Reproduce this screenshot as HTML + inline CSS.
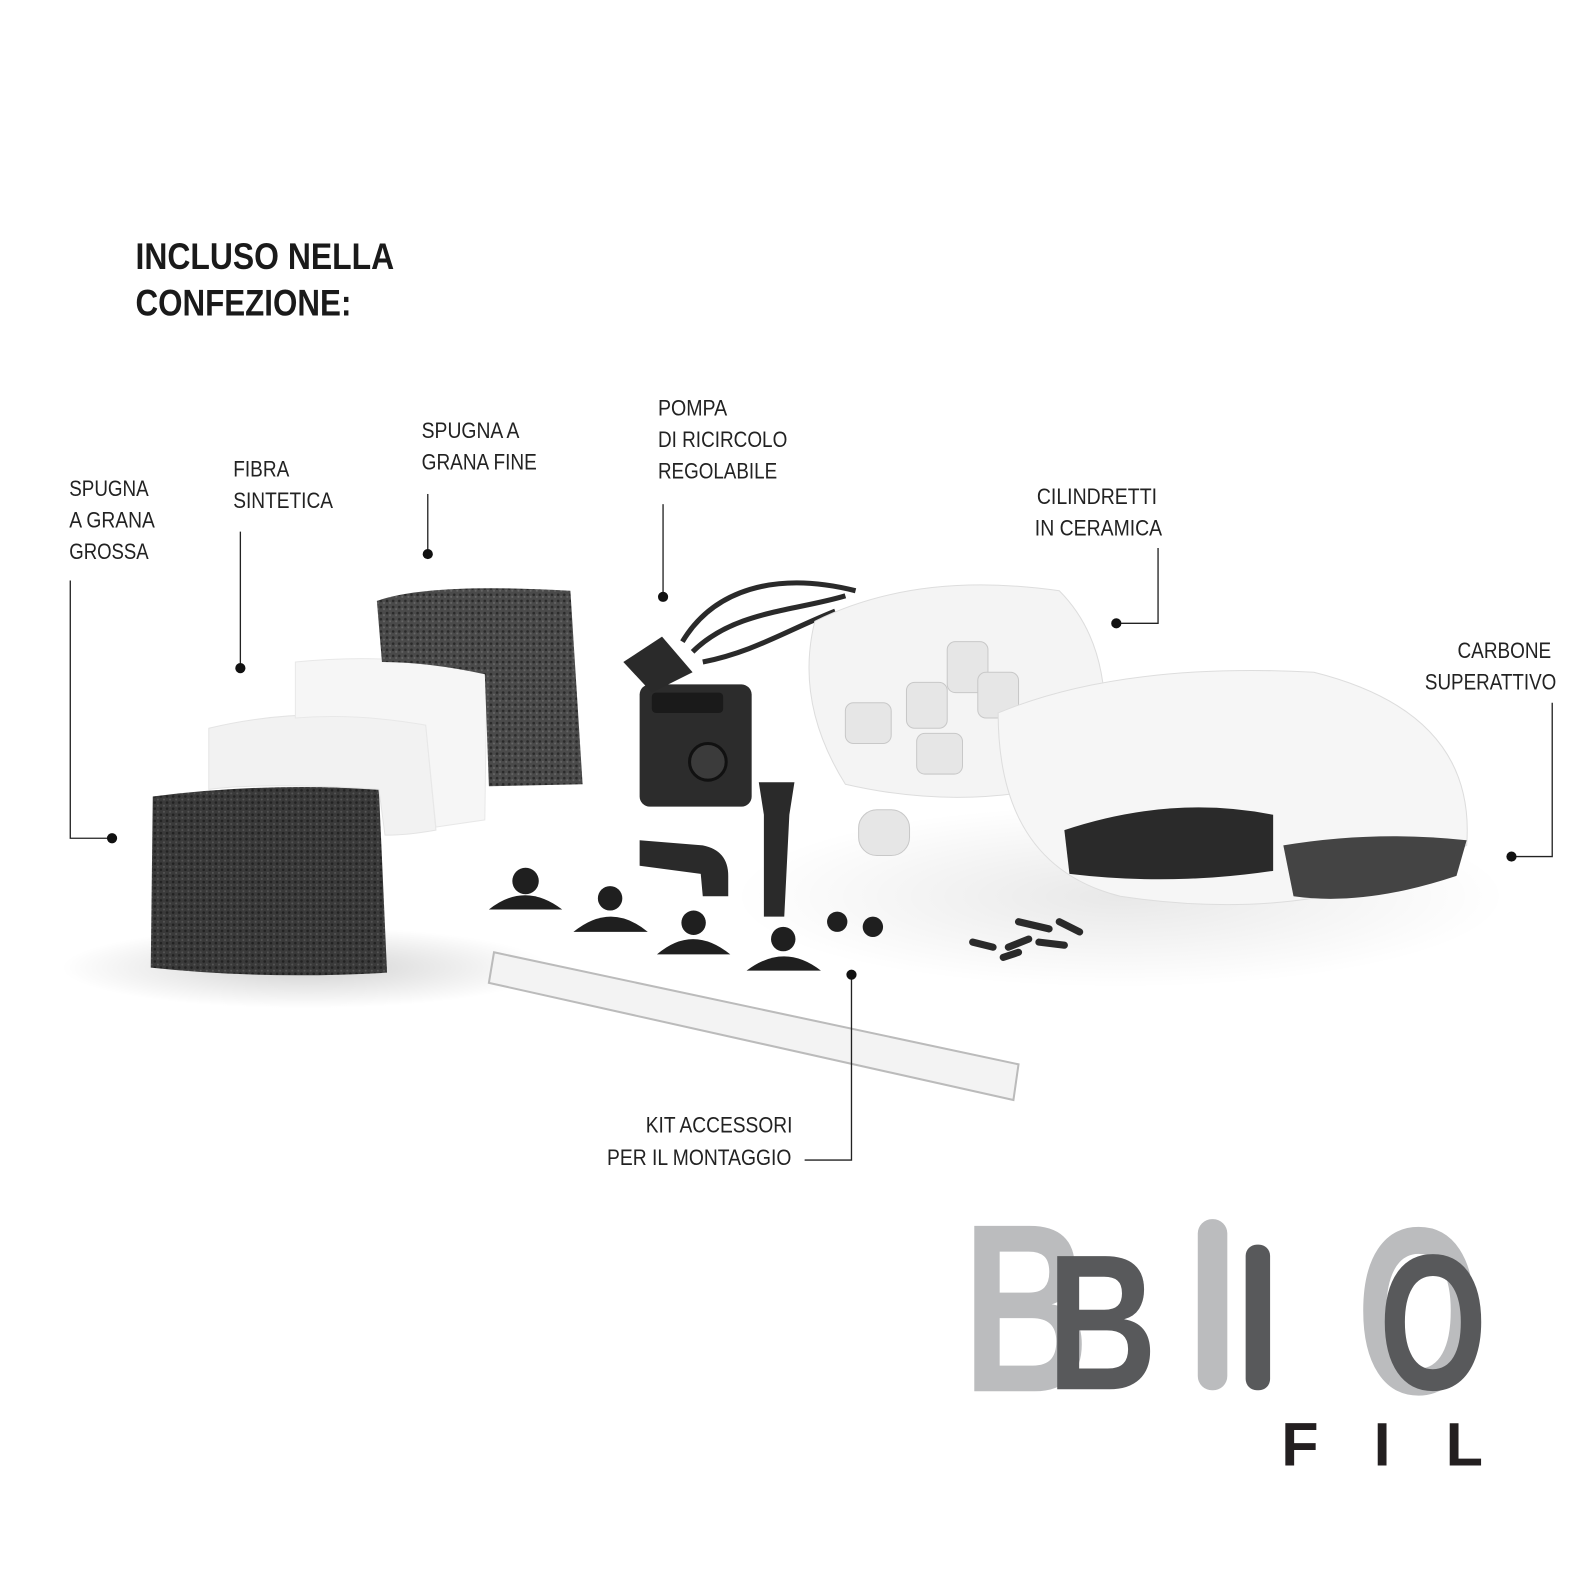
<!DOCTYPE html>
<html><head><meta charset="utf-8">
<style>
html,body{margin:0;padding:0;background:#fff}
#c{position:relative;width:1595px;height:1596px;overflow:hidden;background:#fff}
svg{position:absolute;left:0;top:0}
</style></head><body><div id="c">
<svg width="1595" height="1596" viewBox="0 0 1566 1567" preserveAspectRatio="none" xmlns="http://www.w3.org/2000/svg">
<defs>
<radialGradient id="sh" cx="50%" cy="50%" r="50%"><stop offset="0" stop-color="#000" stop-opacity="0.18"/><stop offset="1" stop-color="#000" stop-opacity="0"/></radialGradient>
<pattern id="foam" width="6" height="6" patternUnits="userSpaceOnUse"><rect width="6" height="6" fill="#3a3a3a"/><circle cx="2" cy="2" r="1.3" fill="#222"/><circle cx="5" cy="5" r="1" fill="#555"/></pattern>
<pattern id="foam2" width="6" height="6" patternUnits="userSpaceOnUse"><rect width="6" height="6" fill="#4a4a4a"/><circle cx="2" cy="2" r="1.3" fill="#2a2a2a"/><circle cx="5" cy="4" r="1" fill="#666"/></pattern>
</defs>
<ellipse cx="300" cy="950" rx="240" ry="40" fill="url(#sh)"/>
<ellipse cx="1100" cy="880" rx="380" ry="90" fill="url(#sh)" opacity="0.5"/>
<path d="M150 782 Q260 768 372 775 L380 955 Q260 962 148 950 Z" fill="url(#foam)"/>
<path d="M205 715 Q310 690 418 712 L428 815 Q400 820 378 820 L372 775 Q260 768 205 775 Z" fill="#f2f2f2" stroke="#e4e4e4"/>
<path d="M290 650 Q390 640 478 660 L476 805 L428 812 L418 712 Q350 700 290 705 Z" fill="#f6f6f6" stroke="#e8e8e8"/>
<path d="M370 590 Q420 572 560 580 L572 770 L480 772 L476 662 Q420 650 375 650 Z" fill="url(#foam2)"/>
<rect x="628" y="672" width="110" height="120" rx="10" fill="#2c2c2c"/>
<rect x="640" y="680" width="70" height="20" rx="4" fill="#1a1a1a"/>
<circle cx="695" cy="748" r="18" fill="#3b3b3b" stroke="#111" stroke-width="3"/>
<path d="M612 650 L650 625 L680 660 L640 680 Z" fill="#2a2a2a"/>
<path d="M670 630 C700 580 760 560 840 580 M680 640 C720 600 780 600 830 585 M690 650 C740 640 770 620 820 600" fill="none" stroke="#2a2a2a" stroke-width="5"/>
<path d="M628 825 L690 830 Q715 835 715 860 L715 880 L690 880 L688 858 L628 850 Z" fill="#2a2a2a"/>
<path d="M745 768 L780 768 L775 800 L770 900 L750 900 L750 800 Z" fill="#2a2a2a"/>
<g fill="#1f1f1f">
<path d="M480 893 Q515 865 552 893 Z"/><circle cx="516" cy="865" r="13"/>
<path d="M563 915 Q600 885 636 915 Z"/><circle cx="599" cy="882" r="12"/>
<path d="M645 937 Q680 907 717 937 Z"/><circle cx="681" cy="906" r="12"/>
<path d="M733 953 Q770 925 806 953 Z"/><circle cx="769" cy="922" r="12"/>
<circle cx="822" cy="905" r="10"/><circle cx="857" cy="910" r="10"/>
</g>
<path d="M485 935 L1000 1045 L995 1080 L480 965 Z" fill="#f3f3f3" stroke="#bbb" stroke-width="2"/>
<path d="M800 610 Q900 560 1040 580 Q1100 640 1080 760 Q960 800 830 770 Q780 690 800 610 Z" fill="#f4f4f4" stroke="#ddd"/>
<g fill="#e6e6e6" stroke="#c8c8c8"><rect x="930" y="630" width="40" height="50" rx="8"/><rect x="890" y="670" width="40" height="45" rx="8"/><rect x="830" y="690" width="45" height="40" rx="8"/><rect x="960" y="660" width="40" height="45" rx="8"/><rect x="900" y="720" width="45" height="40" rx="8"/><rect x="843" y="795" width="50" height="45" rx="18"/></g>
<path d="M980 700 Q1100 650 1290 660 Q1450 700 1440 830 Q1300 910 1100 880 Q980 850 980 700 Z" fill="#f6f6f6" stroke="#ddd"/>
<path d="M1045 815 Q1150 780 1250 800 L1250 855 Q1150 870 1050 858 Z" fill="#2a2a2a"/>
<path d="M1260 830 Q1350 815 1440 825 L1430 860 Q1340 890 1270 880 Z" fill="#444"/>
<g stroke="#2a2a2a" stroke-width="7" stroke-linecap="round"><path d="M955 925 L975 930 M990 930 L1010 922 M1000 905 L1030 912 M1020 925 L1045 928 M1040 905 L1060 915 M985 940 L1000 935"/></g>
<g stroke="#222" stroke-width="1.3" fill="none">
<path d="M69 570 V823 H110"/>
<path d="M236 522 V655"/>
<path d="M420 485 V543"/>
<path d="M651 495 V585"/>
<path d="M1137 538 V612 H1096"/>
<path d="M1524 690 V841 H1484"/>
<path d="M790 1139 H836 V957"/>
</g>
<g fill="#111">
<circle cx="110" cy="823" r="5"/><circle cx="236" cy="656" r="5"/><circle cx="420" cy="544" r="5"/><circle cx="651" cy="586" r="5"/><circle cx="1096" cy="612" r="5"/><circle cx="1484" cy="841" r="5"/><circle cx="836" cy="957" r="5"/>
</g>
<g font-family="Liberation Sans, sans-serif" font-weight="bold" font-size="36" fill="#1a1a1a">
<text x="133" y="264" textLength="254" lengthAdjust="spacingAndGlyphs">INCLUSO NELLA</text>
<text x="133" y="310" textLength="212" lengthAdjust="spacingAndGlyphs">CONFEZIONE:</text>
</g>
<g font-family="Liberation Sans, sans-serif" font-size="22" fill="#222">
<text x="68" y="487" textLength="78" lengthAdjust="spacingAndGlyphs">SPUGNA</text>
<text x="68" y="518" textLength="84" lengthAdjust="spacingAndGlyphs">A GRANA</text>
<text x="68" y="549" textLength="78" lengthAdjust="spacingAndGlyphs">GROSSA</text>
<text x="229" y="468" textLength="55" lengthAdjust="spacingAndGlyphs">FIBRA</text>
<text x="229" y="499" textLength="98" lengthAdjust="spacingAndGlyphs">SINTETICA</text>
<text x="414" y="430" textLength="96" lengthAdjust="spacingAndGlyphs">SPUGNA A</text>
<text x="414" y="461" textLength="113" lengthAdjust="spacingAndGlyphs">GRANA FINE</text>
<text x="646" y="408" textLength="68" lengthAdjust="spacingAndGlyphs">POMPA</text>
<text x="646" y="439" textLength="127" lengthAdjust="spacingAndGlyphs">DI RICIRCOLO</text>
<text x="646" y="470" textLength="117" lengthAdjust="spacingAndGlyphs">REGOLABILE</text>
<text x="1018" y="495" textLength="118" lengthAdjust="spacingAndGlyphs">CILINDRETTI</text>
<text x="1016" y="526" textLength="125" lengthAdjust="spacingAndGlyphs">IN CERAMICA</text>
<text x="1431" y="646" textLength="92" lengthAdjust="spacingAndGlyphs">CARBONE</text>
<text x="1399" y="677" textLength="129" lengthAdjust="spacingAndGlyphs">SUPERATTIVO</text>
<text x="634" y="1112" textLength="144" lengthAdjust="spacingAndGlyphs">KIT ACCESSORI</text>
<text x="596" y="1144" textLength="181" lengthAdjust="spacingAndGlyphs">PER IL MONTAGGIO</text>
</g>
<g font-family="Liberation Sans, sans-serif" font-weight="bold">
<text x="945" y="1366" font-size="236" fill="#bbbcbe" textLength="125" lengthAdjust="spacingAndGlyphs">B</text>
<rect x="1176" y="1197" width="29" height="168" rx="14" fill="#bbbcbe"/>
<text x="1332" y="1368" font-size="234" fill="#bbbcbe" textLength="122" lengthAdjust="spacingAndGlyphs">O</text>
<text x="1028" y="1364" font-size="190" fill="#58595b" textLength="108" lengthAdjust="spacingAndGlyphs">B</text>
<rect x="1223" y="1222" width="24" height="143" rx="11" fill="#58595b"/>
<text x="1354" y="1364" font-size="190" fill="#58595b" textLength="106" lengthAdjust="spacingAndGlyphs">O</text>
<text x="1258" y="1439" font-size="60" fill="#231f20" letter-spacing="54">FIL</text>
</g>
</svg>
</div></body></html>
